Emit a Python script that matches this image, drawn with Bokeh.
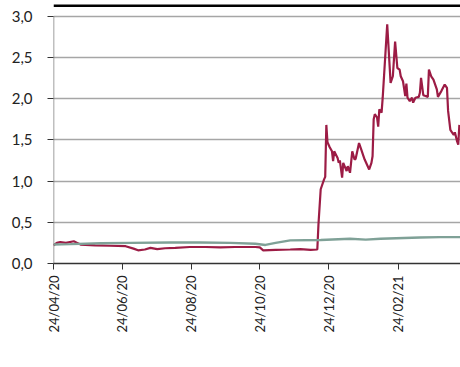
import pandas as pd
from bokeh.plotting import figure
from bokeh.models import (FixedTicker, DatetimeTickFormatter, Legend, LegendItem, Range1d)
from bokeh.embed import file_html
from bokeh.resources import INLINE

# ---- data ----
red_dates = [
    "2020-04-24", "2020-04-27", "2020-04-30", "2020-05-05", "2020-05-12", "2020-05-15", "2020-05-18", "2020-05-31",
    "2020-06-13", "2020-06-27", "2020-07-04", "2020-07-08", "2020-07-14", "2020-07-19", "2020-07-25",
    "2020-08-01", "2020-08-10", "2020-08-23", "2020-09-06", "2020-09-19", "2020-10-02", "2020-10-20",
    "2020-10-24", "2020-10-27", "2020-11-07", "2020-11-20", "2020-11-29", "2020-12-08", "2020-12-14",
    "2020-12-15", "2020-12-17", "2020-12-20", "2020-12-21", "2020-12-22", "2020-12-23", "2020-12-25",
    "2020-12-27", "2020-12-28", "2020-12-29",
    "2021-01-01", "2021-01-02", "2021-01-03", "2021-01-05", "2021-01-06", "2021-01-09", "2021-01-10",
    "2021-01-12", "2021-01-14", "2021-01-16", "2021-01-17", "2021-01-20", "2021-01-22", "2021-01-24",
    "2021-01-25", "2021-01-29", "2021-01-31",
    "2021-02-01", "2021-02-02", "2021-02-03", "2021-02-05", "2021-02-06", "2021-02-07", "2021-02-09",
    "2021-02-10", "2021-02-14", "2021-02-17", "2021-02-19", "2021-02-21", "2021-02-23", "2021-02-25",
    "2021-02-26", "2021-02-28",
    "2021-03-02", "2021-03-03", "2021-03-04", "2021-03-06", "2021-03-08", "2021-03-09", "2021-03-11",
    "2021-03-14", "2021-03-15", "2021-03-16", "2021-03-18", "2021-03-20", "2021-03-22", "2021-03-23",
    "2021-03-25", "2021-03-27", "2021-03-30", "2021-03-31",
    "2021-04-03", "2021-04-06", "2021-04-08", "2021-04-09", "2021-04-11", "2021-04-12", "2021-04-14",
    "2021-04-15", "2021-04-17", "2021-04-18", "2021-04-19",
]
red_values = [
    0.22, 0.25, 0.26, 0.25, 0.27, 0.25, 0.23, 0.22,
    0.215, 0.21, 0.18, 0.16, 0.17, 0.19, 0.175,
    0.185, 0.19, 0.20, 0.20, 0.195, 0.20, 0.20,
    0.195, 0.16, 0.165, 0.17, 0.175, 0.165, 0.17,
    0.47, 0.90, 1.02, 1.05, 1.68, 1.47, 1.41,
    1.36, 1.24, 1.36,
    1.28, 1.22, 1.25, 1.04, 1.22, 1.12, 1.18,
    1.10, 1.36, 1.26, 1.27, 1.46, 1.38, 1.30,
    1.26, 1.14, 1.22,
    1.30, 1.75, 1.81, 1.77, 1.66, 1.87, 1.83,
    2.01, 2.90, 2.19, 2.27, 2.69, 2.37, 2.35,
    2.27, 2.21,
    2.03, 2.18, 2.01, 1.97, 2.01, 1.95, 2.01,
    2.02, 2.07, 2.25, 2.04, 2.03, 2.02, 2.35,
    2.27, 2.23, 2.11, 2.02,
    2.09, 2.17, 2.13, 1.85, 1.62, 1.60, 1.56,
    1.59, 1.48, 1.44, 1.68,
]
green_dates = [
    "2020-04-24", "2020-05-09", "2020-06-05", "2020-07-01", "2020-08-06", "2020-09-01",
    "2020-09-28", "2020-10-20", "2020-10-29", "2020-11-07", "2020-11-20", "2020-12-17",
    "2021-01-12", "2021-01-26", "2021-02-08", "2021-03-15", "2021-04-02", "2021-04-20",
]
green_values = [
    0.23, 0.235, 0.245, 0.25, 0.255, 0.255,
    0.25, 0.24, 0.225, 0.25, 0.28, 0.285,
    0.30, 0.29, 0.30, 0.315, 0.32, 0.32,
]
tick_dates = ["2020-04-24", "2020-06-24", "2020-08-24", "2020-10-24", "2020-12-24", "2021-02-24"]
tick_labels = ["24/04/20", "24/06/20", "24/08/20", "24/10/20", "24/12/20", "24/02/21"]
y_ticks = [0.0, 0.5, 1.0, 1.5, 2.0, 2.5, 3.0]
x_start, x_end = "2020-04-24", "2021-04-20"
y_top = 3.14          # room above the 3,0 gridline for the header rule
header_rule_y = 3.128
series_names = ["ALSGD", "ALSGD rel to CAC Small & Mid 190"]

RED = "#9c1c45"
GREEN = "#7fa197"
FONT = "Lato"

rx = pd.to_datetime(red_dates)
gx = pd.to_datetime(green_dates)
ticks_ms = [pd.Timestamp(d).value / 1e6 for d in tick_dates]
xs, xe = pd.Timestamp(x_start), pd.Timestamp(x_end)

p = figure(frame_width=407, frame_height=259, output_backend="svg", toolbar_location=None,
           x_axis_type="datetime",
           x_range=Range1d(xs, xe), y_range=Range1d(0, y_top),
           min_border_left=53, min_border_right=0, min_border_top=4, min_border_bottom=0)
p.outline_line_color = None
p.background_fill_color = "white"
p.border_fill_color = "white"

# header rule and left axis line (axis line stops at 3,0)
p.segment(x0=[xs], y0=[header_rule_y], x1=[xe], y1=[header_rule_y], line_color="black", line_width=3)
p.segment(x0=[xs], y0=[0], x1=[xs], y1=[y_ticks[-1]], line_color="#808080", line_width=1.5)

r_red = p.line(rx, red_values, line_color=RED, line_width=2.2)
r_green = p.line(gx, green_values, line_color=GREEN, line_width=2.4)

# axes
p.xaxis.ticker = FixedTicker(ticks=ticks_ms)
fmt = "%d/%m/%y"
p.xaxis.formatter = DatetimeTickFormatter(milliseconds=fmt, seconds=fmt, minsec=fmt, minutes=fmt,
                                          hourmin=fmt, hours=fmt, days=fmt, months=fmt, years=fmt)
p.xaxis.major_label_overrides = {t: lab for t, lab in zip(ticks_ms, tick_labels)}
p.xaxis.axis_label = None
p.xaxis.axis_label_standoff = 0
p.xaxis.major_label_orientation = 1.5708
p.xaxis.minor_tick_line_color = None
p.xaxis.major_tick_out = 6
p.xaxis.major_tick_in = 0
p.xaxis.major_label_standoff = 6
p.xaxis.axis_line_color = "#333333"
p.xaxis.axis_line_width = 1.3
p.xaxis.major_tick_line_color = "#333333"
p.xaxis.major_label_text_font = FONT
p.xaxis.major_label_text_font_size = "13px"
p.xaxis.major_label_text_color = "#222222"

p.yaxis.ticker = FixedTicker(ticks=y_ticks)
p.yaxis.major_label_overrides = {v: f"{v:.1f}".replace(".", ",") for v in y_ticks}
p.yaxis.axis_label = None
p.yaxis.minor_tick_line_color = None
p.yaxis.major_tick_out = 6
p.yaxis.major_tick_in = 0
p.yaxis.major_label_standoff = 15
p.yaxis.axis_line_color = None
p.yaxis.major_tick_line_color = "#333333"
p.yaxis.major_label_text_font = FONT
p.yaxis.major_label_text_font_size = "15px"
p.yaxis.major_label_text_color = "#222222"

p.xgrid.grid_line_color = None
p.ygrid.grid_line_color = "#a6a6a6"
p.ygrid.grid_line_width = 1.5

legend = Legend(items=[LegendItem(label=series_names[0], renderers=[r_red]),
                       LegendItem(label=series_names[1], renderers=[r_green])],
                orientation="horizontal", location=(30, 0),
                border_line_color=None, background_fill_alpha=0,
                label_text_font=FONT, label_text_font_size="15px", label_text_color="#333333",
                glyph_width=31, glyph_height=14, label_height=14, label_standoff=14,
                spacing=10, padding=0, margin=0)
p.add_layout(legend, "below")

open("out.html", "w").write(file_html(p, INLINE))
